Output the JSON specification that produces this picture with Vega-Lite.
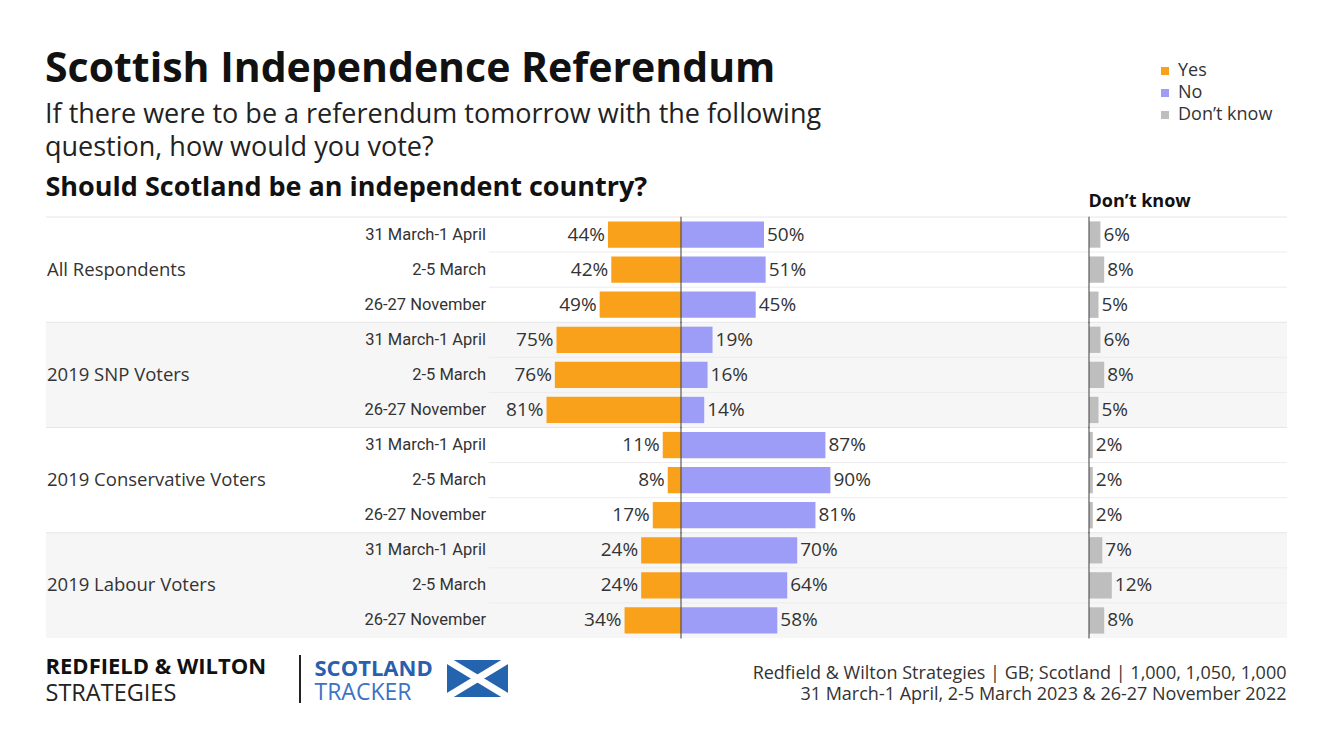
{
  "$schema": "https://vega.github.io/schema/vega-lite/v6.json",
  "width": 1333,
  "height": 750,
  "padding": 0,
  "autosize": {"type": "none"},
  "background": "#ffffff",
  "title": {
    "text": "Scottish Independence Referendum",
    "subtitle": ["If there were to be a referendum tomorrow with the following", "question, how would you vote?"],
    "anchor": "start",
    "frame": "group",
    "offset": -162,
    "dx": 45,
    "font": "Open Sans",
    "fontSize": 41,
    "fontWeight": "bold",
    "color": "#111111",
    "subtitleFont": "Open Sans",
    "subtitleFontSize": 27,
    "subtitleColor": "#222222",
    "subtitleLineHeight": 33,
    "subtitlePadding": 11
  },
  "layer": [
    {
      "data": {
        "values": [
          {"group": "All Respondents", "date": "31 March-1 April", "yes": 0.44, "no": 0.50, "dk": 0.06},
          {"group": "All Respondents", "date": "2-5 March", "yes": 0.42, "no": 0.51, "dk": 0.08},
          {"group": "All Respondents", "date": "26-27 November", "yes": 0.49, "no": 0.45, "dk": 0.05},
          {"group": "2019 SNP Voters", "date": "31 March-1 April", "yes": 0.75, "no": 0.19, "dk": 0.06},
          {"group": "2019 SNP Voters", "date": "2-5 March", "yes": 0.76, "no": 0.16, "dk": 0.08},
          {"group": "2019 SNP Voters", "date": "26-27 November", "yes": 0.81, "no": 0.14, "dk": 0.05},
          {"group": "2019 Conservative Voters", "date": "31 March-1 April", "yes": 0.11, "no": 0.87, "dk": 0.02},
          {"group": "2019 Conservative Voters", "date": "2-5 March", "yes": 0.08, "no": 0.90, "dk": 0.02},
          {"group": "2019 Conservative Voters", "date": "26-27 November", "yes": 0.17, "no": 0.81, "dk": 0.02},
          {"group": "2019 Labour Voters", "date": "31 March-1 April", "yes": 0.24, "no": 0.70, "dk": 0.07},
          {"group": "2019 Labour Voters", "date": "2-5 March", "yes": 0.24, "no": 0.64, "dk": 0.12},
          {"group": "2019 Labour Voters", "date": "26-27 November", "yes": 0.34, "no": 0.58, "dk": 0.08}
        ]
      },
      "layer": [
        {
          "mark": {"type": "rect"},
          "encoding": {
            "y": {
              "field": "group",
              "type": "nominal",
              "axis": null,
              "scale": {
                "domain": ["All Respondents", "2019 SNP Voters", "2019 Conservative Voters", "2019 Labour Voters"],
                "range": [217, 638],
                "paddingInner": 0,
                "paddingOuter": 0
              }
            },
            "x": {"datum": 0, "type": "quantitative", "axis": null, "scale": {"domain": [0, 1], "range": [46, 1287]}},
            "x2": {"datum": 1},
            "fill": {
              "field": "group",
              "type": "nominal",
              "legend": null,
              "scale": {
                "domain": ["All Respondents", "2019 SNP Voters", "2019 Conservative Voters", "2019 Labour Voters"],
                "range": ["#ffffff", "#f6f6f6", "#ffffff", "#f6f6f6"]
              }
            }
          }
        },
        {
          "transform": [{"filter": "datum.date == '31 March-1 April'"}],
          "mark": {"type": "rule", "color": "#e6e6e6", "strokeWidth": 1},
          "encoding": {
            "y": {"field": "group", "type": "nominal", "bandPosition": 0, "axis": null},
            "x": {"datum": 0, "type": "quantitative", "axis": null, "scale": {"domain": [0, 1], "range": [46, 1287]}},
            "x2": {"datum": 1}
          }
        },
        {
          "transform": [{"filter": "datum.date == '31 March-1 April'"}],
          "mark": {"type": "rule", "color": "#ececec", "strokeWidth": 1},
          "encoding": {
            "y": {"field": "group", "type": "nominal", "bandPosition": 0.3333, "axis": null},
            "x": {"datum": 0, "type": "quantitative", "axis": null, "scale": {"domain": [0, 1], "range": [489, 1287]}},
            "x2": {"datum": 1}
          }
        },
        {
          "transform": [{"filter": "datum.date == '31 March-1 April'"}],
          "mark": {"type": "rule", "color": "#ececec", "strokeWidth": 1},
          "encoding": {
            "y": {"field": "group", "type": "nominal", "bandPosition": 0.6667, "axis": null},
            "x": {"datum": 0, "type": "quantitative", "axis": null, "scale": {"domain": [0, 1], "range": [489, 1287]}},
            "x2": {"datum": 1}
          }
        },
        {
          "mark": {"type": "text", "align": "right", "font": "Roboto", "fontSize": 16.5, "color": "#333333"},
          "encoding": {
            "y": {"field": "group", "type": "nominal", "axis": null},
            "yOffset": {
              "field": "date",
              "type": "nominal",
              "scale": {"domain": ["31 March-1 April", "2-5 March", "26-27 November"], "paddingInner": 0.25, "paddingOuter": 0.125}
            },
            "x": {
              "datum": 1,
              "type": "quantitative",
              "scale": {"domain": [0, 1], "range": [0, 486]},
              "axis": {
                "orient": "bottom", "domain": false, "ticks": false, "labels": false, "grid": false, "minExtent": 0,
                "title": "TRACKER", "titleX": 314, "titleY": -51, "titleAlign": "left", "titleBaseline": "alphabetic",
                "titleFont": "Open Sans", "titleFontSize": 23, "titleFontWeight": "normal", "titleColor": "#3d72c4"
              }
            },
            "text": {"field": "date"}
          }
        },
        {
          "transform": [{"filter": "datum.date == '2-5 March'"}],
          "mark": {"type": "text", "align": "left", "font": "Open Sans", "fontSize": 18.5, "color": "#333333"},
          "encoding": {
            "y": {"field": "group", "type": "nominal", "axis": null},
            "x": {"datum": 0, "type": "quantitative", "axis": null, "scale": {"domain": [0, 1], "range": [47, 1287]}},
            "text": {"field": "group"}
          }
        },
        {
          "mark": {"type": "bar"},
          "encoding": {
            "y": {"field": "group", "type": "nominal", "axis": null},
            "yOffset": {"field": "date", "type": "nominal"},
            "x": {
              "field": "yes",
              "type": "quantitative",
              "scale": {"domain": [0, 1], "range": [681, 515]},
              "axis": {
                "orient": "top", "domain": false, "ticks": false, "labels": false, "grid": false, "minExtent": 0,
                "title": "Should Scotland be an independent country?", "titleX": 45, "titleY": 195, "titleAlign": "left",
                "titleBaseline": "alphabetic", "titleFont": "Open Sans", "titleFontSize": 27, "titleFontWeight": "bold", "titleColor": "#111111"
              }
            },
            "color": {
              "datum": "Yes",
              "scale": {"domain": ["Yes", "No", "Don’t know"], "range": ["#F9A11B", "#9D9DF8", "#BEBEBE"]},
              "legend": {
                "orient": "none", "legendX": 1156, "legendY": 62, "title": null, "padding": 0,
                "symbolType": "square", "symbolSize": 64, "symbolStrokeWidth": 0,
                "labelFont": "Open Sans", "labelFontSize": 18, "labelColor": "#333333", "labelOffset": 4, "rowPadding": 4
              }
            }
          }
        },
        {
          "mark": {"type": "bar"},
          "encoding": {
            "y": {"field": "group", "type": "nominal", "axis": null},
            "yOffset": {"field": "date", "type": "nominal"},
            "x": {
              "field": "no",
              "type": "quantitative",
              "scale": {"domain": [0, 1], "range": [681, 847]},
              "axis": {
                "orient": "bottom", "domain": false, "ticks": false, "labels": false, "grid": false, "minExtent": 0,
                "title": ["Redfield & Wilton Strategies | GB; Scotland | 1,000, 1,050, 1,000", "31 March-1 April, 2-5 March 2023 & 26-27 November 2022"],
                "titleX": 1286, "titleY": -72, "titleAlign": "right", "titleBaseline": "alphabetic", "titleLineHeight": 21,
                "titleFont": "Open Sans", "titleFontSize": 18, "titleFontWeight": "normal", "titleColor": "#333333"
              }
            },
            "color": {"datum": "No"}
          }
        },
        {
          "mark": {"type": "bar"},
          "encoding": {
            "y": {"field": "group", "type": "nominal", "axis": null},
            "yOffset": {"field": "date", "type": "nominal"},
            "x": {
              "field": "dk",
              "type": "quantitative",
              "scale": {"domain": [0, 1], "range": [1089, 1279]},
              "axis": {
                "orient": "top", "domain": false, "ticks": false, "labels": false, "grid": false, "minExtent": 0,
                "title": "Don’t know", "titleX": 1088, "titleY": 206, "titleAlign": "left", "titleBaseline": "alphabetic",
                "titleFont": "Open Sans", "titleFontSize": 18, "titleFontWeight": "bold", "titleColor": "#111111"
              }
            },
            "color": {"datum": "Don’t know"}
          }
        },
        {
          "transform": [{"filter": "datum.date == '2-5 March'"}],
          "mark": {"type": "tick", "color": "#444444", "thickness": 1.5, "size": 106},
          "encoding": {
            "y": {"field": "group", "type": "nominal", "axis": null},
            "x": {"datum": 0, "type": "quantitative", "axis": null, "scale": {"domain": [0, 1], "range": [681, 847]}}
          }
        },
        {
          "transform": [{"filter": "datum.date == '2-5 March'"}],
          "mark": {"type": "tick", "color": "#444444", "thickness": 1.5, "size": 106},
          "encoding": {
            "y": {"field": "group", "type": "nominal", "axis": null},
            "x": {"datum": 0, "type": "quantitative", "axis": null, "scale": {"domain": [0, 1], "range": [1089, 1279]}}
          }
        },
        {
          "mark": {"type": "text", "align": "right", "dx": -3, "font": "Open Sans", "fontSize": 19, "color": "#333333"},
          "encoding": {
            "y": {"field": "group", "type": "nominal", "axis": null},
            "yOffset": {"field": "date", "type": "nominal"},
            "x": {
              "field": "yes",
              "type": "quantitative",
              "scale": {"domain": [0, 1], "range": [681, 515]},
              "axis": {
                "orient": "bottom", "domain": false, "ticks": false, "labels": false, "grid": false, "minExtent": 0,
                "title": "REDFIELD & WILTON", "titleX": 45, "titleY": -77, "titleAlign": "left", "titleBaseline": "alphabetic",
                "titleFont": "Open Sans", "titleFontSize": 22, "titleFontWeight": "bold", "titleColor": "#111111"
              }
            },
            "text": {"field": "yes", "format": ".0%"}
          }
        },
        {
          "mark": {"type": "text", "align": "left", "dx": 3, "font": "Open Sans", "fontSize": 19, "color": "#333333"},
          "encoding": {
            "y": {"field": "group", "type": "nominal", "axis": null},
            "yOffset": {"field": "date", "type": "nominal"},
            "x": {
              "field": "no",
              "type": "quantitative",
              "scale": {"domain": [0, 1], "range": [681, 847]},
              "axis": {
                "orient": "bottom", "domain": false, "ticks": false, "labels": false, "grid": false, "minExtent": 0,
                "title": "STRATEGIES", "titleX": 45, "titleY": -50, "titleAlign": "left", "titleBaseline": "alphabetic",
                "titleFont": "Open Sans", "titleFontSize": 23.5, "titleFontWeight": "normal", "titleColor": "#222222"
              }
            },
            "text": {"field": "no", "format": ".0%"}
          }
        },
        {
          "mark": {"type": "text", "align": "left", "dx": 3, "font": "Open Sans", "fontSize": 19, "color": "#333333"},
          "encoding": {
            "y": {"field": "group", "type": "nominal", "axis": null},
            "yOffset": {"field": "date", "type": "nominal"},
            "x": {
              "field": "dk",
              "type": "quantitative",
              "scale": {"domain": [0, 1], "range": [1089, 1279]},
              "axis": {
                "orient": "bottom", "domain": false, "ticks": false, "labels": false, "grid": false, "minExtent": 0,
                "title": "SCOTLAND", "titleX": 314, "titleY": -75, "titleAlign": "left", "titleBaseline": "alphabetic",
                "titleFont": "Open Sans", "titleFontSize": 22, "titleFontWeight": "bold", "titleColor": "#2a5fae"
              }
            },
            "text": {"field": "dk", "format": ".0%"}
          }
        }
      ],
      "resolve": {"scale": {"x": "independent"}}
    },
    {
      "data": {"values": [{}]},
      "mark": {"type": "rule", "color": "#222222", "strokeWidth": 2},
      "encoding": {
        "x": {"datum": 0, "type": "quantitative", "axis": null, "scale": {"domain": [0, 1], "range": [300, 301]}},
        "y": {"datum": 0, "type": "quantitative", "axis": null, "scale": {"domain": [0, 1], "range": [655, 703]}},
        "y2": {"datum": 1}
      }
    },
    {
      "data": {"values": [{}]},
      "layer": [
        {
          "mark": {"type": "rect", "color": "#2463ae"},
          "encoding": {
            "x": {"datum": 0, "type": "quantitative", "axis": null, "scale": {"domain": [0, 1], "range": [447, 508]}},
            "x2": {"datum": 1},
            "y": {"datum": 0, "type": "quantitative", "axis": null, "scale": {"domain": [0, 1], "range": [660, 697]}},
            "y2": {"datum": 1}
          }
        },
        {
          "mark": {"type": "rule", "color": "#ffffff", "strokeWidth": 7},
          "encoding": {
            "x": {"datum": 0, "type": "quantitative", "axis": null},
            "x2": {"datum": 1},
            "y": {"datum": 0, "type": "quantitative", "axis": null},
            "y2": {"datum": 1}
          }
        },
        {
          "mark": {"type": "rule", "color": "#ffffff", "strokeWidth": 7},
          "encoding": {
            "x": {"datum": 0, "type": "quantitative", "axis": null},
            "x2": {"datum": 1},
            "y": {"datum": 1, "type": "quantitative", "axis": null},
            "y2": {"datum": 0}
          }
        }
      ]
    }
  ],
  "resolve": {"scale": {"x": "independent", "y": "independent"}},
  "config": {
    "view": {"stroke": null},
    "font": "Open Sans",
    "text": {"font": "Open Sans"}
  }
}
